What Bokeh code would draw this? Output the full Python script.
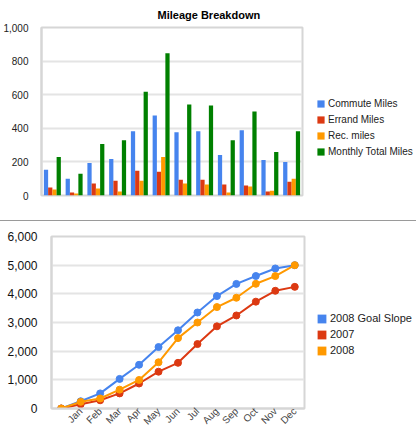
from math import pi
from bokeh.plotting import figure
from bokeh.layouts import column, row
from bokeh.models import (ColumnDataSource, Legend, LegendItem, SingleIntervalTicker,
                          NumeralTickFormatter, Title, Range1d, FactorRange)
from bokeh.transform import dodge
from bokeh.embed import file_html
from bokeh.resources import INLINE

# ---------------- data ----------------
months = ["Jan", "Feb", "Mar", "Apr", "May", "Jun", "Jul", "Aug", "Sep", "Oct", "Nov", "Dec"]
commute_miles = [153, 100, 194, 218, 382, 476, 376, 382, 241, 388, 212, 200]
errand_miles = [47, 18, 71, 88, 147, 141, 94, 94, 65, 59, 24, 82]
rec_miles = [35, 12, 41, 24, 88, 229, 71, 65, 18, 53, 29, 100]
monthly_total = [229, 129, 306, 329, 617, 847, 541, 535, 329, 500, 259, 382]

line_months = [" ", "Jan", "Feb", "Mar", "Apr", "May", "Jun", "Jul", "Aug", "Sep", "Oct", "Nov", "Dec"]
goal_2008 = [0, 252, 527, 1032, 1525, 2144, 2729, 3349, 3922, 4346, 4622, 4885, 5000]
cum_2007 = [0, 149, 287, 527, 872, 1284, 1594, 2248, 2867, 3245, 3727, 4106, 4243]
cum_2008 = [0, 232, 350, 658, 995, 1612, 2455, 3000, 3538, 3863, 4350, 4620, 5000]

bar_labels = ["Commute Miles", "Errand Miles", "Rec. miles", "Monthly Total Miles"]
line_labels = ["2008 Goal Slope", "2007", "2008"]

BLUE, RED, ORANGE, GREEN = "#4684EE", "#DC3912", "#FF9900", "#008000"
FONT = "Liberation Sans"
GRID = "#e4e4e4"
AXIS = "#d6d6d6"


def legend_fig(width, height, labels, colors, loc, gsize, spacing, fsize, styles=None):
    # a small, axis-less figure that only holds a legend (swatches are squares)
    f = figure(width=width, height=height, x_range=Range1d(0, 1), y_range=Range1d(0, 1),
               output_backend="svg", toolbar_location=None,
               min_border_left=0, min_border_right=0, min_border_top=0, min_border_bottom=0)
    f.axis.visible = False
    f.grid.visible = False
    f.outline_line_color = None
    items = []
    for lab, col in zip(labels, colors):
        # swatch renderer kept outside the visible range; only its legend entry shows
        d = f.quad(left=[5], right=[6], top=[6], bottom=[5], fill_color=col, line_color=None)
        items.append(LegendItem(label=lab, renderers=[d]))
    leg = Legend(items=items, location=loc, orientation="vertical", glyph_width=gsize,
                 glyph_height=gsize, label_height=gsize, spacing=spacing, padding=0, margin=0,
                 label_standoff=3, label_text_font=FONT, label_text_font_size=fsize,
                 label_text_color="#222222", border_line_color=None, background_fill_alpha=0)
    f.add_layout(leg)
    if styles:
        f.styles = styles
    return f


# ---------------- top: bar chart ----------------
src1 = ColumnDataSource(dict(month=months, commute=commute_miles, errand=errand_miles,
                             rec=rec_miles, total=monthly_total))

p1 = figure(width=304, height=220, x_range=FactorRange(factors=months), y_range=Range1d(0, 1000),
            output_backend="svg", toolbar_location=None,
            min_border_left=41, min_border_right=2, min_border_top=25, min_border_bottom=25)
p1.title = Title(text="Mileage Breakdown", align="left", offset=116, text_font=FONT,
                 text_font_size="11px", text_font_style="bold", text_color="#000000", standoff=13)

bw = 0.195
offs = [-1.5 * bw, -0.5 * bw, 0.5 * bw, 1.5 * bw]
for key, col, off in zip(["commute", "errand", "rec", "total"], [BLUE, RED, ORANGE, GREEN], offs):
    p1.vbar(x=dodge("month", off, range=p1.x_range), top=key, width=bw, source=src1,
            fill_color=col, line_color=None)

p1.xaxis.visible = False
p1.xgrid.visible = False
p1.ygrid.grid_line_color = GRID
p1.ygrid.grid_line_width = 2
p1.yaxis.ticker = SingleIntervalTicker(interval=200)
p1.yaxis.formatter = NumeralTickFormatter(format="0,0")
p1.yaxis.axis_line_color = AXIS
p1.yaxis.axis_line_width = 2
p1.yaxis.major_tick_line_color = None
p1.yaxis.minor_tick_line_color = None
p1.yaxis.major_label_standoff = 7
p1.yaxis.major_label_text_font = FONT
p1.yaxis.major_label_text_font_size = "10px"
p1.yaxis.major_label_text_color = "#222222"
p1.outline_line_color = AXIS
p1.outline_line_width = 2

lf1 = legend_fig(112, 220, bar_labels, [BLUE, RED, ORANGE, GREEN], (12, 38), 9, 5, "10px")

# ---------------- bottom: line chart ----------------
sep_style = {"border-top": "1px solid #9a9a9a"}
src2 = ColumnDataSource(dict(m=line_months, goal=goal_2008, y7=cum_2007, y8=cum_2008))
p2 = figure(width=306, height=212, x_range=FactorRange(factors=line_months), y_range=Range1d(0, 6000),
            output_backend="svg", toolbar_location=None,
            min_border_left=51, min_border_right=2, min_border_top=15, min_border_bottom=20)
p2.styles = sep_style

for key, col in zip(["goal", "y7", "y8"], [BLUE, RED, ORANGE]):
    p2.line(x="m", y=key, source=src2, line_color=col, line_width=2)
    p2.scatter(x="m", y=key, source=src2, size=7, fill_color=col, line_color=col)

p2.xgrid.visible = False
p2.ygrid.grid_line_color = GRID
p2.ygrid.grid_line_width = 2
p2.yaxis.ticker = SingleIntervalTicker(interval=1000)
p2.yaxis.formatter = NumeralTickFormatter(format="0,0")
p2.yaxis.axis_line_color = AXIS
p2.yaxis.axis_line_width = 2
p2.yaxis.major_tick_line_color = None
p2.yaxis.minor_tick_line_color = None
p2.yaxis.major_label_standoff = 8
p2.yaxis.major_label_text_font = FONT
p2.yaxis.major_label_text_font_size = "12px"
p2.yaxis.major_label_text_color = "#111111"
p2.xaxis.axis_line_color = AXIS
p2.xaxis.axis_line_width = 2
p2.xaxis.major_tick_line_color = None
p2.xaxis.major_tick_out = 0
p2.xaxis.major_tick_in = 0
p2.xaxis.major_label_orientation = pi / 4
p2.xaxis.major_label_standoff = 1
p2.xaxis.major_label_text_font = FONT
p2.xaxis.major_label_text_font_size = "10px"
p2.xaxis.major_label_text_color = "#444444"
p2.outline_line_color = AXIS
p2.outline_line_width = 2

lf2 = legend_fig(110, 212, line_labels, [BLUE, RED, ORANGE], (10, 52), 11, 4, "11px", sep_style)

layout = column(row(p1, lf1, spacing=0), row(p2, lf2, spacing=0), spacing=0)
open("out.html", "w").write(file_html(layout, INLINE))
